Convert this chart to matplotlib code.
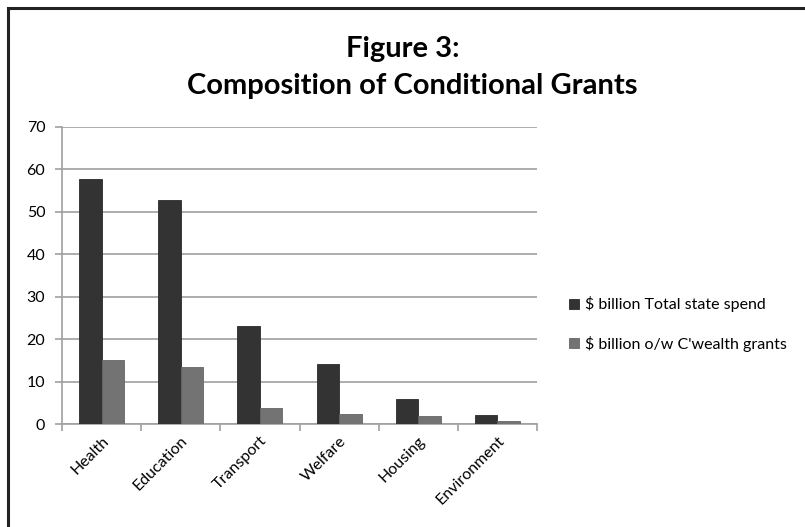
import matplotlib
matplotlib.use("Agg")
import matplotlib.pyplot as plt
import numpy as np
from matplotlib.patches import Rectangle

categories = ["Health", "Education", "Transport", "Welfare", "Housing", "Environment"]
total_state_spend = [57.7, 52.7, 23.2, 14.1, 5.8, 2.1]
cwealth_grants = [15.2, 13.5, 3.7, 2.3, 1.9, 0.7]
series_labels = ["$ billion Total state spend", "$ billion o/w C'wealth grants"]
yticks = [0, 10, 20, 30, 40, 50, 60, 70]

plt.rcParams['font.family'] = ['Lato', 'DejaVu Sans']

W, H = 805, 527
fig = plt.figure(figsize=(W / 100, H / 100), dpi=100)
fig.patch.set_facecolor("white")

# outer frame (runs off the right and bottom edges)
fig.patches.append(Rectangle((8 / W, -0.1), 1.2, 1.1 - 8 / H,
                             transform=fig.transFigure, fill=False,
                             edgecolor="#222222", linewidth=2.2, zorder=0))

ax = fig.add_axes([62 / W, 1 - 424 / H, (537 - 62) / W, (424 - 127) / H])

x = np.arange(len(categories))
bw = 0.285
ax.bar(x - bw / 2, total_state_spend, bw, color="#333333", edgecolor="#2a2a2a",
       linewidth=0.6, label=series_labels[0], zorder=3)
ax.bar(x + bw / 2, cwealth_grants, bw, color="#737373", edgecolor="#666666",
       linewidth=0.6, label=series_labels[1], zorder=3)

ax.set_xlim(-0.5, len(categories) - 0.5)
ax.set_ylim(0, 70)
ax.set_yticks(yticks)
ax.yaxis.grid(True, color="#a0a0a0", linewidth=1.2)
ax.set_axisbelow(True)
for s in ["top", "right"]:
    ax.spines[s].set_visible(False)
for s in ["left", "bottom"]:
    ax.spines[s].set_color("#a0a0a0")
    ax.spines[s].set_linewidth(1.2)

ax.set_xticks(np.arange(len(categories) + 1) - 0.5, minor=False)
ax.set_xticklabels([])
ax.tick_params(axis="x", which="major", length=5, color="#a0a0a0", width=1.2)
ax.set_xticks(x, minor=True)
ax.set_xticklabels(categories, minor=True, rotation=45, ha="right",
                   rotation_mode="anchor", fontsize=11.5)
ax.tick_params(axis="x", which="minor", length=0, pad=7)
ax.tick_params(axis="y", length=5, color="#a0a0a0", width=1.2, labelsize=11.5, pad=7)

fig.text(403 / W, 1 - 49 / H, "Figure 3:", ha="center", va="center",
         fontsize=21, fontweight="bold")
fig.text(412 / W, 1 - 86 / H, "Composition of Conditional Grants", ha="center",
         va="center", fontsize=21, fontweight="bold")

leg = fig.legend(loc="upper left", bbox_to_anchor=(555 / W, 1 - 282 / H),
                 frameon=False, fontsize=11.5, handlelength=0.6, handleheight=0.6,
                 handletextpad=0.4, labelspacing=1.45)

fig.savefig("out.png", dpi=100)
